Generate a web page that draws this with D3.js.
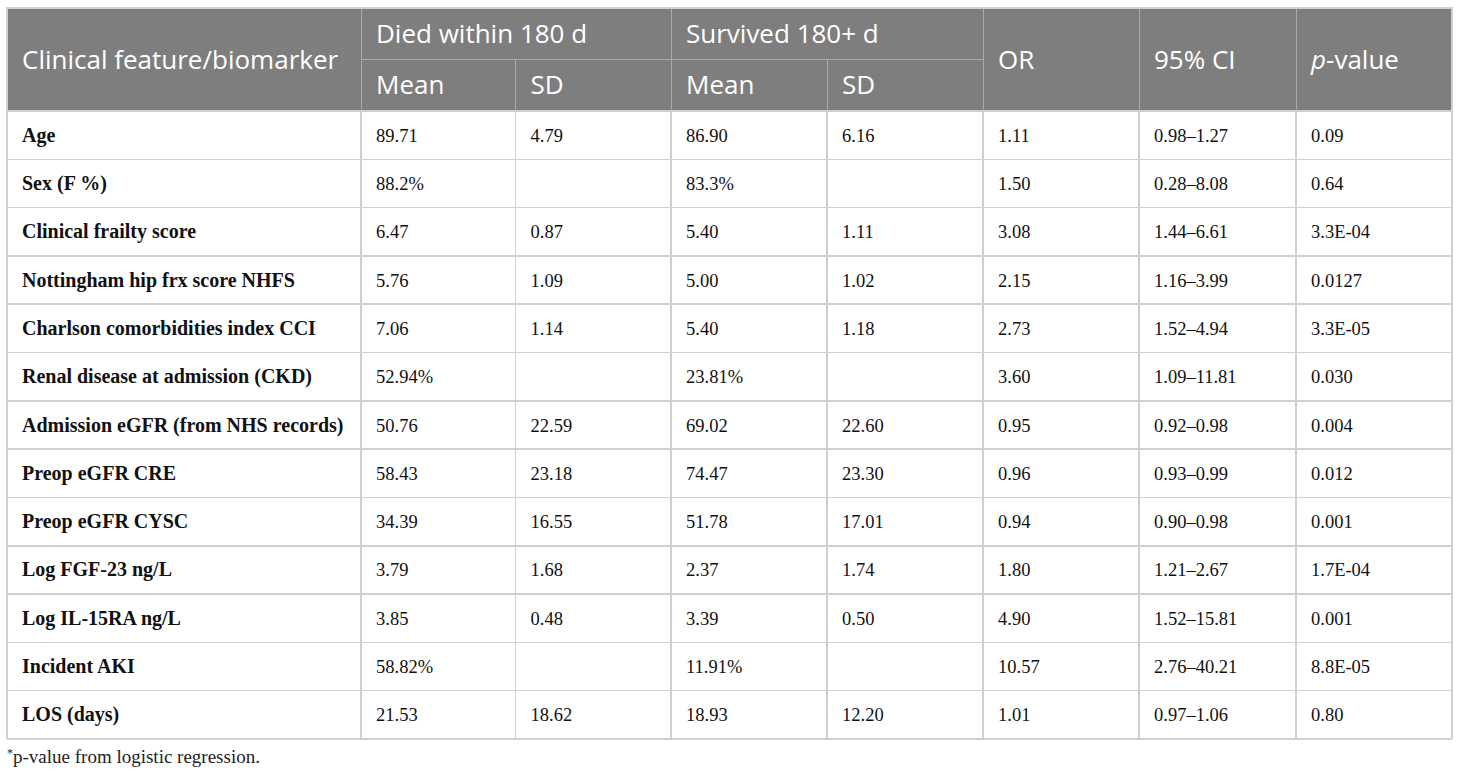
<html lang="en">
<head>
    <meta charset="UTF-8">
    <title>Clinical features table</title>
    <style>
        body { margin: 0; background: #fff; }
    </style>
</head>
<body>
    <div id="table"></div>
    <script src="https://d3js.org/d3.v7.min.js"></script>
    <script>
        // data
        var features = ["Age", "Sex (F %)", "Clinical frailty score", "Nottingham hip frx score NHFS",
            "Charlson comorbidities index CCI", "Renal disease at admission (CKD)",
            "Admission eGFR (from NHS records)", "Preop eGFR CRE", "Preop eGFR CYSC",
            "Log FGF-23 ng/L", "Log IL-15RA ng/L", "Incident AKI", "LOS (days)"];
        var diedMean = ["89.71", "88.2%", "6.47", "5.76", "7.06", "52.94%", "50.76", "58.43", "34.39", "3.79", "3.85", "58.82%", "21.53"];
        var diedSD = ["4.79", "", "0.87", "1.09", "1.14", "", "22.59", "23.18", "16.55", "1.68", "0.48", "", "18.62"];
        var survMean = ["86.90", "83.3%", "5.40", "5.00", "5.40", "23.81%", "69.02", "74.47", "51.78", "2.37", "3.39", "11.91%", "18.93"];
        var survSD = ["6.16", "", "1.11", "1.02", "1.18", "", "22.60", "23.30", "17.01", "1.74", "0.50", "", "12.20"];
        var oddsRatio = ["1.11", "1.50", "3.08", "2.15", "2.73", "3.60", "0.95", "0.96", "0.94", "1.80", "4.90", "10.57", "1.01"];
        var ci95 = ["0.98–1.27", "0.28–8.08", "1.44–6.61", "1.16–3.99", "1.52–4.94", "1.09–11.81", "0.92–0.98",
            "0.93–0.99", "0.90–0.98", "1.21–2.67", "1.52–15.81", "2.76–40.21", "0.97–1.06"];
        var pValue = ["0.09", "0.64", "3.3E-04", "0.0127", "3.3E-05", "0.030", "0.004", "0.012", "0.001", "1.7E-04", "0.001", "8.8E-05", "0.80"];

        var columns = ["feature", "diedMean", "diedSD", "survMean", "survSD", "or", "ci", "p"];
        var groupHeaders = [
            { label: "Died within 180 d", from: "diedMean", to: "diedSD" },
            { label: "Survived 180+ d", from: "survMean", to: "survSD" }
        ];
        var subHeaders = [
            { col: "diedMean", label: "Mean" }, { col: "diedSD", label: "SD" },
            { col: "survMean", label: "Mean" }, { col: "survSD", label: "SD" }
        ];
        var spanHeaders = [
            { col: "feature", label: "Clinical feature/biomarker" },
            { col: "or", label: "OR" },
            { col: "ci", label: "95% CI" }
        ];
        var footnote = "p-value from logistic regression.";

        var rows = features.map(function(f, i) {
            return {
                feature: f, diedMean: diedMean[i], diedSD: diedSD[i], survMean: survMean[i],
                survSD: survSD[i], or: oddsRatio[i], ci: ci95[i], p: pValue[i]
            };
        });

        // layout
        var width = 1460, height = 776;
        var tLeft = 7, tTop = 8, headMid = 59.5, headBottom = 111, tBottom = 739;
        var colEdges = [7, 361, 515.5, 671, 827, 983, 1139, 1296, 1452];
        var tRight = colEdges[colEdges.length - 1];
        var pad = 15;
        var sans = "'Open Sans', 'Noto Sans', sans-serif";
        var serif = "'Liberation Serif', 'DejaVu Serif', serif";

        var colX = {}, colR = {};
        columns.forEach(function(c, i) { colX[c] = colEdges[i]; colR[c] = colEdges[i + 1]; });

        var y = d3.scaleBand().domain(d3.range(rows.length)).range([headBottom, tBottom]);

        var svg = d3.select("#table").append("svg")
            .attr("width", width)
            .attr("height", height);

        // header background
        svg.append("rect")
            .attr("x", tLeft).attr("y", tTop)
            .attr("width", tRight - tLeft)
            .attr("height", headBottom - tTop)
            .attr("fill", "#7e7e7e");

        var lineColor = "#d0d0d0", headLine = "#a9a9a9";
        var grid = svg.append("g").attr("shape-rendering", "crispEdges");

        // header lines
        colEdges.slice(1, -1).forEach(function(xe, i) {
            var c = columns[i + 1];
            // inner dividers of the groups only go through the sub-header
            var y0 = (c === "diedSD" || c === "survSD") ? headMid : tTop;
            grid.append("line").attr("x1", xe).attr("x2", xe).attr("y1", y0).attr("y2", headBottom)
                .attr("stroke", headLine).attr("stroke-width", 1);
        });
        groupHeaders.forEach(function(g) {
            grid.append("line").attr("x1", colX[g.from]).attr("x2", colR[g.to])
                .attr("y1", headMid).attr("y2", headMid)
                .attr("stroke", headLine).attr("stroke-width", 1);
        });

        // body lines
        grid.selectAll("line.row").data(d3.range(rows.length + 1)).enter().append("line")
            .attr("class", "row")
            .attr("x1", tLeft).attr("x2", tRight)
            .attr("y1", function(i) { return i < rows.length ? y(i) : tBottom; })
            .attr("y2", function(i) { return i < rows.length ? y(i) : tBottom; })
            .attr("stroke", lineColor).attr("stroke-width", 1.5);
        grid.selectAll("line.col").data(colEdges).enter().append("line")
            .attr("class", "col")
            .attr("x1", function(d) { return d; }).attr("x2", function(d) { return d; })
            .attr("y1", headBottom).attr("y2", tBottom)
            .attr("stroke", lineColor).attr("stroke-width", 1.5);
        // outer frame of header
        grid.append("rect")
            .attr("x", tLeft).attr("y", tTop)
            .attr("width", tRight - tLeft).attr("height", headBottom - tTop)
            .attr("fill", "none").attr("stroke", lineColor).attr("stroke-width", 1.5);

        // header text
        var hOff = 9;
        var head = svg.append("g").attr("fill", "#fff").attr("font-family", sans).attr("font-size", 26);
        head.selectAll("text.group").data(groupHeaders).enter().append("text")
            .attr("x", function(d) { return colX[d.from] + pad; })
            .attr("y", (tTop + headMid) / 2 + hOff)
            .text(function(d) { return d.label; });
        head.selectAll("text.sub").data(subHeaders).enter().append("text")
            .attr("x", function(d) { return colX[d.col] + pad; })
            .attr("y", (headMid + headBottom) / 2 + hOff)
            .text(function(d) { return d.label; });
        head.selectAll("text.span").data(spanHeaders).enter().append("text")
            .attr("x", function(d) { return colX[d.col] + pad; })
            .attr("y", (tTop + headBottom) / 2 + hOff)
            .text(function(d) { return d.label; });
        var pHead = head.append("text")
            .attr("x", colX.p + pad)
            .attr("y", (tTop + headBottom) / 2 + hOff);
        pHead.append("tspan").attr("font-style", "italic").text("p");
        pHead.append("tspan").text("-value");

        // body text
        var body = svg.append("g").attr("font-family", serif).attr("fill", "#111");
        var rowG = body.selectAll("g.row").data(rows).enter().append("g")
            .attr("transform", function(d, i) { return "translate(0," + (y(i) + y.bandwidth() / 2 + 6.5) + ")"; });
        rowG.selectAll("text").data(function(d) {
            return columns.map(function(c) { return { col: c, value: d[c] }; });
        }).enter().append("text")
            .attr("x", function(d) { return colX[d.col] + pad; })
            .attr("font-size", function(d) { return d.col === "feature" ? 20 : 18.5; })
            .attr("font-weight", function(d) { return d.col === "feature" ? "bold" : "normal"; })
            .text(function(d) { return d.value; });

        // footnote
        var foot = svg.append("text")
            .attr("x", tLeft)
            .attr("y", 763)
            .attr("font-family", serif)
            .attr("font-size", 19)
            .attr("fill", "#222");
        foot.append("tspan").attr("font-size", 12).attr("dy", -6).text("*");
        foot.append("tspan").attr("dy", 6).text(footnote);
    </script>
</body>
</html>
